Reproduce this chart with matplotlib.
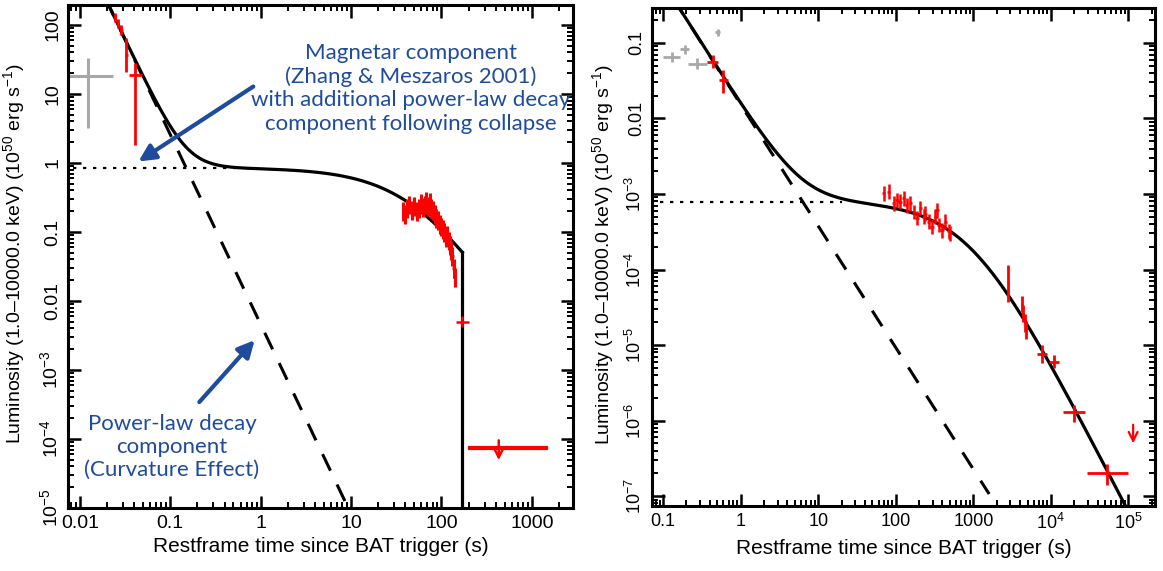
import numpy as np
import matplotlib
matplotlib.use("Agg")
import matplotlib.pyplot as plt
from matplotlib.ticker import LogLocator, NullFormatter

plt.rcParams['font.family'] = ['Liberation Sans', 'DejaVu Sans']
plt.rcParams['mathtext.fontset'] = 'custom'
plt.rcParams['mathtext.rm'] = 'Liberation Sans'
plt.rcParams['mathtext.it'] = 'Liberation Sans:italic'

BLUE = '#1f4b9c'

# ---------------- left panel data ----------------
# early BAT points (red)
bat_t = np.array([0.0243, 0.0262, 0.0289, 0.0328, 0.0405])
bat_t_lo = np.array([0.0236, 0.0254, 0.0281, 0.0318, 0.0354])
bat_t_hi = np.array([0.0250, 0.0270, 0.0297, 0.0338, 0.0493])
bat_L = np.array([130, 107, 85, 37, 19])
bat_L_lo = np.array([112, 92, 72, 21, 1.8])
bat_L_hi = np.array([150, 124, 99, 64, 28])

# grey point
grey_t = np.array([0.0122])
grey_t_lo = np.array([0.0072])
grey_t_hi = np.array([0.023])
grey_L = np.array([18.0])
grey_L_lo = np.array([3.2])
grey_L_hi = np.array([33.0])

# XRT plateau cluster
xrt_t = np.array([38, 40, 42, 44, 47, 50, 53, 56, 59, 62, 65, 68, 71, 74, 77, 80,
                  84, 88, 92, 96, 100, 104, 108, 112, 116, 120, 124, 128, 132, 136, 140])
xrt_L = np.array([0.20, 0.18, 0.22, 0.25, 0.21, 0.24, 0.20, 0.22, 0.26, 0.23, 0.25,
                  0.28, 0.24, 0.27, 0.22, 0.21, 0.18, 0.16, 0.15, 0.13, 0.12, 0.11,
                  0.10, 0.085, 0.09, 0.075, 0.065, 0.055, 0.045, 0.030, 0.022])

# point at the collapse and the later upper limit
late_t, late_t_lo, late_t_hi = 170.0, 145.0, 200.0
late_L, late_L_lo, late_L_hi = 0.005, 0.0042, 0.006
ul_t, ul_t_lo, ul_t_hi = 430.0, 205.0, 1450.0
ul_L, ul_L_top, ul_L_tip = 7.5e-5, 1.05e-4, 4.5e-5

# model parameters (left)
pl1_norm, pl1_t0, pl1_index = 0.85, 0.15, 2.75
mag1_L0, mag1_T, collapse_t = 0.85, 55.0, 170.0

# ---------------- right panel data ----------------
grey2_t = np.array([0.13, 0.19, 0.275, 0.51])
grey2_t_lo = np.array([0.10, 0.165, 0.21, 0.47])
grey2_t_hi = np.array([0.166, 0.215, 0.37, 0.55])
grey2_L = np.array([0.065, 0.083, 0.053, 0.14])
grey2_L_lo = np.array([0.056, 0.072, 0.045, 0.125])
grey2_L_hi = np.array([0.076, 0.095, 0.063, 0.155])

bat2_t = np.array([0.44, 0.595])
bat2_t_lo = np.array([0.37, 0.53])
bat2_t_hi = np.array([0.51, 0.69])
bat2_L = np.array([0.056, 0.032])
bat2_L_lo = np.array([0.047, 0.022])
bat2_L_hi = np.array([0.069, 0.044])

xrt2_t = np.array([70, 81, 94, 104, 114, 126, 139, 154, 170, 188, 207, 229, 240,
                   265, 293, 323, 340, 357, 394, 435, 481, 505])
xrt2_L = np.array([1.02e-3, 1.07e-3, 7.5e-4, 8.3e-4, 7.9e-4, 8.8e-4, 7.1e-4, 7.5e-4,
                   5.8e-4, 4.8e-4, 6.5e-4, 5.0e-4, 5.5e-4, 4.3e-4, 3.7e-4, 5.0e-4,
                   6.1e-4, 3.9e-4, 3.3e-4, 4.3e-4, 3.2e-4, 3.0e-4])

late2_t = np.array([2820, 4200, 4400, 4600, 4800, 7700, 10900, 19700, 53000])
late2_t_lo = np.array([2780, 4100, 4300, 4500, 4700, 6600, 9400, 14400, 29000])
late2_t_hi = np.array([2860, 4300, 4500, 4700, 4900, 8900, 12600, 27900, 100000])
late2_L = np.array([6.6e-5, 3.5e-5, 2.6e-5, 2.0e-5, 1.6e-5, 7.7e-6, 6.0e-6, 1.3e-6, 2.0e-7])
late2_L_lo = np.array([3.7e-5, 2.7e-5, 2.0e-5, 1.5e-5, 1.2e-5, 5.8e-6, 5.0e-6, 9.6e-7, 1.4e-7])
late2_L_hi = np.array([1.15e-4, 4.5e-5, 3.4e-5, 2.6e-5, 2.1e-5, 1.0e-5, 7.3e-6, 1.6e-6, 2.7e-7])

ul2_t, ul2_L_top, ul2_L_tip = 1.15e5, 9.6e-7, 4.6e-7

pl2_norm, pl2_t0, pl2_index = 0.0052, 1.96, 1.61
mag2_L0, mag2_T = 7.8e-4, 900.0

# tick labels
x1_ticks = [0.01, 0.1, 1, 10, 100, 1000]
x1_labels = ['0.01', '0.1', '1', '10', '100', '1000']
y1_ticks = [1e-5, 1e-4, 1e-3, 0.01, 0.1, 1, 10, 100]
y1_labels = ['$10^{-5}$', '$10^{-4}$', '$10^{-3}$', '0.01', '0.1', '1', '10', '100']
x2_ticks = [0.1, 1, 10, 100, 1000, 1e4, 1e5]
x2_labels = ['0.1', '1', '10', '100', '1000', '$10^4$', '$10^5$']
y2_ticks = [1e-7, 1e-6, 1e-5, 1e-4, 1e-3, 0.01, 0.1]
y2_labels = ['$10^{-7}$', '$10^{-6}$', '$10^{-5}$', '$10^{-4}$', '$10^{-3}$', '0.01', '0.1']

XLABEL = 'Restframe time since BAT trigger (s)'
YLABEL = 'Luminosity (1.0\u201310000.0 keV) (10$^{50}$ erg s$^{-1}$)'


def errs(v, lo, hi):
    return [v - lo, hi - v]


def style(ax, xlim, ylim, xt, xl, yt, yl, tsize):
    ax.set_xscale('log')
    ax.set_yscale('log')
    ax.set_xlim(*xlim)
    ax.set_ylim(*ylim)
    ax.set_xticks(xt)
    ax.set_xticklabels(xl, fontsize=tsize)
    ax.set_yticks(yt)
    ax.set_yticklabels(yl, fontsize=tsize, rotation=90, va='center')
    ax.xaxis.set_minor_locator(LogLocator(base=10, subs=np.arange(2, 10), numticks=30))
    ax.yaxis.set_minor_locator(LogLocator(base=10, subs=np.arange(2, 10), numticks=30))
    ax.xaxis.set_minor_formatter(NullFormatter())
    ax.yaxis.set_minor_formatter(NullFormatter())
    ax.set_xlim(*xlim)
    ax.set_ylim(*ylim)
    for s in ax.spines.values():
        s.set_linewidth(2.2)
    ax.tick_params(which='both', direction='in', top=True, right=True)
    ax.tick_params(which='major', length=9, width=1.8, pad=5)
    ax.tick_params(which='minor', length=4.5, width=1.4)
    ax.set_xlabel(XLABEL, fontsize=15)
    ax.set_ylabel(YLABEL, fontsize=14)


fig = plt.figure(figsize=(11.63, 5.71), dpi=100)
ax1 = fig.add_axes([68 / 1163, 63 / 571, 505 / 1163, 503 / 571])
ax2 = fig.add_axes([652 / 1163, 65 / 571, 503 / 1163, 498 / 571])

# ---------------- left panel ----------------
t = np.logspace(np.log10(0.015), np.log10(collapse_t), 400)
dashed1 = pl1_norm * (t / pl1_t0) ** -pl1_index
mag1 = mag1_L0 / (1 + t / mag1_T) ** 2
ax1.plot(t, dashed1 + mag1, color='black', lw=2.3)
ax1.plot([collapse_t, collapse_t], [(dashed1 + mag1)[-1], 1e-6], color='black', lw=2.3)
td = np.logspace(np.log10(0.015), 1, 200)
ax1.plot(td, pl1_norm * (td / pl1_t0) ** -pl1_index, color='black', lw=2.2,
         dashes=(6, 5))
ax1.plot([0.005, 0.6], [mag1_L0, mag1_L0], color='black', lw=1.6, dashes=(1.5, 3))

ax1.errorbar(grey_t, grey_L, xerr=errs(grey_t, grey_t_lo, grey_t_hi),
             yerr=errs(grey_L, grey_L_lo, grey_L_hi), fmt='none', ecolor='#a8a8a8',
             elinewidth=2.2, capsize=0)
ax1.errorbar(bat_t, bat_L, xerr=errs(bat_t, bat_t_lo, bat_t_hi),
             yerr=errs(bat_L, bat_L_lo, bat_L_hi), fmt='none', ecolor='red',
             elinewidth=2, capsize=0)
ax1.errorbar(xrt_t, xrt_L, xerr=[xrt_t * 0.03, xrt_t * 0.03],
             yerr=[xrt_L * 0.28, xrt_L * 0.35], fmt='none', ecolor='red',
             elinewidth=2.2, capsize=0)
ax1.errorbar([late_t], [late_L], xerr=[[late_t - late_t_lo], [late_t_hi - late_t]],
             yerr=[[late_L - late_L_lo], [late_L_hi - late_L]], fmt='none',
             ecolor='red', elinewidth=1.8, capsize=0)
ax1.plot([ul_t_lo, ul_t_hi], [ul_L, ul_L], color='red', lw=3)
ax1.annotate('', xy=(ul_t, ul_L_tip), xytext=(ul_t, ul_L_top),
             arrowprops=dict(arrowstyle='->', color='red', lw=1.8, mutation_scale=18))

ax1.text(0.679, 0.834, 'Magnetar component\n(Zhang & Meszaros 2001)\n'
         'with additional power-law decay\ncomponent following collapse',
         transform=ax1.transAxes, ha='center', va='center', fontsize=16,
         family='Lato', color=BLUE, linespacing=1.2)
ax1.text(0.206, 0.121, 'Power-law decay\ncomponent\n(Curvature Effect)',
         transform=ax1.transAxes, ha='center', va='center', fontsize=16,
         family='Lato', color=BLUE, linespacing=1.2)
ax1.annotate('', xy=(0.042, 1.0), xytext=(0.88, 13.5),
             arrowprops=dict(arrowstyle='-|>', color=BLUE, lw=3, mutation_scale=25))
ax1.annotate('', xy=(0.9, 2.9e-3), xytext=(0.2, 3.2e-4),
             arrowprops=dict(arrowstyle='-|>', color=BLUE, lw=3, mutation_scale=25))

style(ax1, (0.0074, 2850), (1e-5, 195), x1_ticks, x1_labels, y1_ticks, y1_labels, 14)
ax1.yaxis.set_label_coords(-0.082, 0.505)

# ---------------- right panel ----------------
t2 = np.logspace(np.log10(0.1), np.log10(3e5), 500)
dashed2 = pl2_norm * (t2 / pl2_t0) ** -pl2_index
mag2 = mag2_L0 / (1 + t2 / mag2_T) ** 2
ax2.plot(t2, dashed2 + mag2, color='black', lw=2.3)
td2 = np.logspace(np.log10(0.1), np.log10(1600), 200)
ax2.plot(td2, pl2_norm * (td2 / pl2_t0) ** -pl2_index, color='black', lw=2.2,
         dashes=(6, 5))
ax2.plot([0.05, 20], [mag2_L0, mag2_L0], color='black', lw=1.6, dashes=(1.5, 3))

ax2.errorbar(grey2_t, grey2_L, xerr=errs(grey2_t, grey2_t_lo, grey2_t_hi),
             yerr=errs(grey2_L, grey2_L_lo, grey2_L_hi), fmt='none', ecolor='#a8a8a8',
             elinewidth=2, capsize=0)
ax2.errorbar(bat2_t, bat2_L, xerr=errs(bat2_t, bat2_t_lo, bat2_t_hi),
             yerr=errs(bat2_L, bat2_L_lo, bat2_L_hi), fmt='none', ecolor='red',
             elinewidth=2, capsize=0)
ax2.errorbar(xrt2_t, xrt2_L, xerr=[xrt2_t * 0.05, xrt2_t * 0.05],
             yerr=[xrt2_L * 0.2, xrt2_L * 0.25], fmt='none', ecolor='red',
             elinewidth=1.8, capsize=0)
ax2.errorbar(late2_t, late2_L, xerr=errs(late2_t, late2_t_lo, late2_t_hi),
             yerr=errs(late2_L, late2_L_lo, late2_L_hi), fmt='none', ecolor='red',
             elinewidth=2, capsize=0)
ax2.annotate('', xy=(ul2_t, ul2_L_tip), xytext=(ul2_t, ul2_L_top),
             arrowprops=dict(arrowstyle='->', color='red', lw=1.6, mutation_scale=16))

style(ax2, (0.072, 2.2e5), (7.4e-8, 0.29), x2_ticks, x2_labels, y2_ticks, y2_labels, 13)
ax2.yaxis.set_label_coords(-0.072, 0.505)

fig.savefig('out.png', dpi=100)
